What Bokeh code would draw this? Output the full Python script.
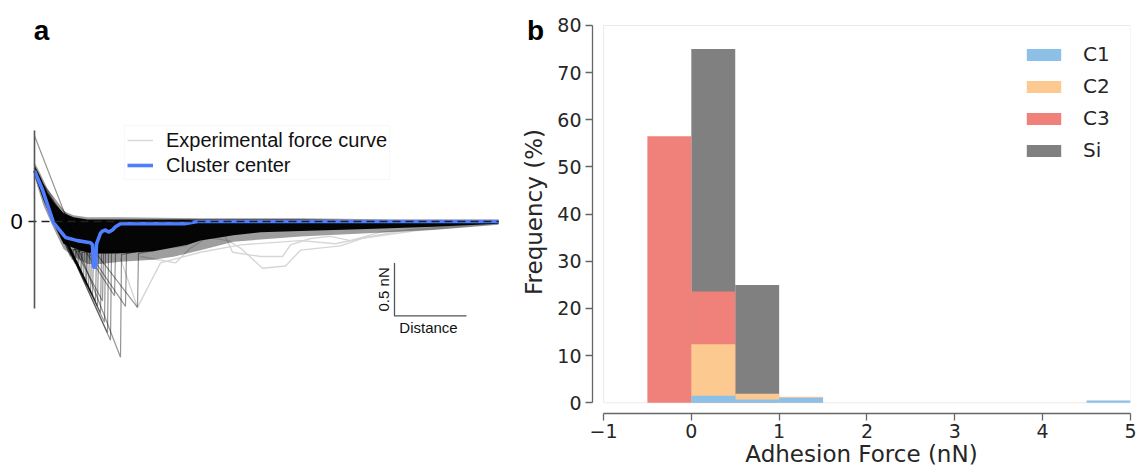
import math
from bokeh.plotting import figure
from bokeh.layouts import row
from bokeh.models import Legend, LegendItem, Label, FixedTicker, Range1d
from bokeh.embed import file_html
from bokeh.resources import INLINE

# ---------------- Panel a data (distance in a.u., force in nN) ----------------
center_x = [0, 8, 19, 31, 43, 56, 58, 59, 61, 62, 66, 68, 71, 74, 78, 81, 86, 96, 120, 150, 163, 250, 350, 464]
center_y = [0.48, 0.30, -0.01, -0.15, -0.18, -0.20, -0.22, -0.43, -0.43, -0.21, -0.11, -0.09, -0.08, -0.10,
            -0.08, -0.05, -0.02, -0.02, -0.02, -0.02, 0.0, 0.0, 0.0, 0.0]

band_upper_x = [0, 6, 13, 21, 29, 39, 53, 86, 166, 266, 366, 464]
band_upper_y = [0.53, 0.42, 0.27, 0.16, 0.08, 0.04, 0.02, 0.02, 0.02, 0.02, 0.01, 0.01]
band_lower_x = [464, 399, 333, 266, 226, 199, 166, 153, 119, 86, 63, 53, 39, 29, 19, 9, 0]
band_lower_y = [-0.02, -0.05, -0.07, -0.09, -0.10, -0.13, -0.18, -0.22, -0.28, -0.30, -0.30, -0.29, -0.25, -0.21, -0.02, 0.20, 0.44]

halo_upper_x = [0, 6, 13, 21, 29, 39, 53, 86, 166, 266, 366, 464]
halo_upper_y = [0.56, 0.45, 0.31, 0.19, 0.10, 0.06, 0.04, 0.04, 0.03, 0.03, 0.02, 0.02]
halo_lower_x = [464, 399, 333, 266, 199, 166, 140, 119, 86, 66, 53, 39, 29, 19, 9, 0]
halo_lower_y = [-0.03, -0.08, -0.11, -0.14, -0.19, -0.27, -0.33, -0.36, -0.38, -0.40, -0.40, -0.33, -0.26, -0.06, 0.15, 0.42]

# steep curves that snap off: start force, minimum point, force after snap-off
fan_start_y = [0.46] * 24 + [0.81]
fan_min_x = [36, 38, 40, 41, 43, 44, 46, 47, 49, 51, 52, 54, 56, 58, 61, 63, 66, 68, 70, 73, 76, 80, 91, 103, 86]
fan_min_y = [-0.33, -0.36, -0.38, -0.40, -0.42, -0.44, -0.48, -0.50, -0.53, -0.58, -0.60, -0.62, -0.67, -0.70,
             -0.75, -0.80, -0.86, -0.75, -0.95, -1.05, -1.12, -0.70, -0.80, -0.81, -1.28]
fan_after_y = [-0.27, -0.27, -0.28, -0.28, -0.28, -0.28, -0.29, -0.29, -0.29, -0.29, -0.29, -0.29, -0.30, -0.30,
               -0.30, -0.30, -0.30, -0.30, -0.30, -0.30, -0.30, -0.30, -0.30, -0.30, -0.31]

out1_x = [106, 141, 156, 171, 191, 198, 226, 248, 256, 276, 296, 316, 346, 386, 464]
out1_y = [-0.33, -0.39, -0.25, -0.16, -0.14, -0.29, -0.33, -0.33, -0.22, -0.16, -0.14, -0.18, -0.10, -0.07, -0.01]
out2_x = [116, 151, 166, 194, 206, 228, 251, 266, 306, 331, 366, 464]
out2_y = [-0.27, -0.23, -0.14, -0.18, -0.25, -0.44, -0.42, -0.27, -0.23, -0.15, -0.09, -0.02]
out3_x = [86, 103, 126, 166, 206, 266, 301, 326, 386, 436, 464]
out3_y = [-0.35, -0.81, -0.39, -0.29, -0.22, -0.18, -0.21, -0.16, -0.08, -0.04, -0.01]

legend_a_labels = ["Experimental force curve", "Cluster center"]
panel_letters = ["a", "b"]

# ---------------- Panel b data ----------------
bin_left = [-0.5, 0.0, 0.5, 1.0, 4.5]
bin_width = 0.5
freq_si = [0.0, 75.0, 25.0, 0.0, 0.0]
freq_c3 = [56.5, 23.6, 0.0, 0.0, 0.0]
freq_c2 = [0.0, 12.4, 1.9, 1.3, 0.0]
freq_c1 = [0.0, 1.5, 0.7, 1.05, 0.5]
series_names = ["C1", "C2", "C3", "Si"]
series_colors = {"C1": "#8cc0e6", "C2": "#fcca91", "C3": "#ef807a", "Si": "#808080"}
x_ticks = [-1, 0, 1, 2, 3, 4, 5]
y_ticks = [0, 10, 20, 30, 40, 50, 60, 70, 80]

TOP, BOTTOM = 10, 59
OVERLAP = 30

# ================= Panel a =================
pa = figure(width=518 + OVERLAP, height=472, output_backend="svg", toolbar_location=None,
            x_range=Range1d(-34, 484 + OVERLAP), y_range=Range1d(-1.811, 1.991),
            x_axis_type=None, y_axis_type=None,
            min_border_left=0, min_border_right=0, min_border_top=TOP, min_border_bottom=BOTTOM)
pa.outline_line_color = None
pa.xgrid.visible = False
pa.ygrid.visible = False

exp_r = pa.multi_line([out1_x, out2_x, out3_x], [out1_y, out2_y, out3_y],
                      line_color="#d6d6d6", line_width=1.4)

pa.patch(halo_upper_x + halo_lower_x, halo_upper_y + halo_lower_y,
         fill_color="black", fill_alpha=0.38, line_color=None)

fan_xs, fan_ys = [], []
for s, mx, my, ay in zip(fan_start_y, fan_min_x, fan_min_y, fan_after_y):
    fan_xs.append([0, mx, mx + 1, mx + 18])
    fan_ys.append([s, my, ay, ay + 0.03])
pa.multi_line(fan_xs, fan_ys, line_color="black", line_alpha=0.42, line_width=1.2)

pa.patch(band_upper_x + band_lower_x, band_upper_y + band_lower_y,
         fill_color="black", fill_alpha=0.97, line_color=None)

cl_r = pa.line(center_x, center_y, line_color="#4f7fff", line_width=3.6)

# zero dashed line
pa.line([-6, 464], [0, 0], line_color="#222222", line_width=1.5, line_dash="8 5")
# vertical spine
pa.line([0, 0], [0.86, -0.82], line_color="#555555", line_width=1.6)
pa.add_layout(Label(x=-18, y=0, text="0", text_font="Liberation Sans", text_font_size="22px",
                    text_align="center", text_baseline="middle", text_color="black"))

# scale bar
pa.line([360, 360, 432], [-0.39, -0.89, -0.89], line_color="#555555", line_width=1.3)
pa.add_layout(Label(x=349, y=-0.64, text="0.5 nN", angle=math.pi / 2, text_font="Liberation Sans",
                    text_font_size="15px", text_align="center", text_baseline="middle", text_color="#111111"))
pa.add_layout(Label(x=394, y=-1.0, text="Distance", text_font="Liberation Sans",
                    text_font_size="15px", text_align="center", text_baseline="middle", text_color="#111111"))

# panel letters (b sits in the strip that panel b's transparent canvas overlaps)
for lx, lab in zip([7, 501], panel_letters):
    pa.add_layout(Label(x=lx, y=1.80, text=lab, text_font="Liberation Sans", text_font_size="28px",
                        text_font_style="bold", text_align="center", text_baseline="middle",
                        text_color="black"))

leg_a = Legend(items=[LegendItem(label=legend_a_labels[0], renderers=[exp_r]),
                      LegendItem(label=legend_a_labels[1], renderers=[cl_r])],
               location=(124, 233), padding=2, spacing=1, margin=0,
               label_height=24, glyph_height=24, glyph_width=26, label_standoff=13,
               label_text_font="Liberation Sans", label_text_font_size="20px", label_text_color="#111111",
               border_line_color="#f2f2f2", background_fill_alpha=0.85)
pa.add_layout(leg_a)

# ================= Panel b =================
pb = figure(width=619, height=472, output_backend="svg", toolbar_location=None,
            x_range=Range1d(-1.125, 5.0), y_range=Range1d(-2.27, 83.18),
            min_border_left=72, min_border_right=7, min_border_top=TOP, min_border_bottom=BOTTOM,
            margin=(0, 0, 0, -OVERLAP))
pb.outline_line_color = None
pb.background_fill_color = None
pb.border_fill_color = None
pb.xgrid.visible = False
pb.ygrid.visible = False

pb.quad(left=[-1], right=[5], bottom=[0], top=[80], fill_color=None, line_color="#ebebeb", line_width=1)

lefts = bin_left
rights = [b + bin_width for b in bin_left]
rend = {}
for name, vals in [("Si", freq_si), ("C3", freq_c3), ("C2", freq_c2), ("C1", freq_c1)]:
    l = [a for a, v in zip(lefts, vals) if v > 0]
    r = [a for a, v in zip(rights, vals) if v > 0]
    t = [v for v in vals if v > 0]
    rend[name] = pb.quad(left=l, right=r, bottom=[0] * len(t), top=t,
                         fill_color=series_colors[name], line_color=None)

for ax in (pb.xaxis[0], pb.yaxis[0]):
    ax.axis_line_color = "#666666"
    ax.axis_line_width = 1.3
    ax.major_tick_line_color = "#666666"
    ax.major_tick_line_width = 1.3
    ax.major_tick_out = 7
    ax.major_tick_in = 0
    ax.minor_tick_line_color = None
    ax.major_label_text_font = "DejaVu Sans"
    ax.major_label_text_font_size = "19px"
    ax.major_label_text_color = "#262626"
    ax.axis_label_text_font = "DejaVu Sans"
    ax.axis_label_text_font_size = "23px"
    ax.axis_label_text_font_style = "normal"
    ax.axis_label_text_color = "#262626"

pb.xaxis.bounds = (-1, 5)
pb.xaxis.ticker = FixedTicker(ticks=x_ticks)
pb.xaxis.major_label_overrides = {-1: "\u22121"}
pb.xaxis.axis_label = "Adhesion Force (nN)"
pb.xaxis.major_label_standoff = 3
pb.xaxis.axis_label_standoff = 0
pb.yaxis.bounds = (0, 80)
pb.yaxis.ticker = FixedTicker(ticks=y_ticks)
pb.yaxis.axis_label = "Frequency (%)"
pb.yaxis.major_label_standoff = 4
pb.yaxis.axis_label_standoff = 7

leg_b = Legend(items=[LegendItem(label=n, renderers=[rend[n]]) for n in series_names],
               location=(430, 251), margin=0, padding=0, spacing=8,
               label_height=24, glyph_height=15, glyph_width=43, label_standoff=18,
               label_text_font="DejaVu Sans", label_text_font_size="20px", label_text_color="#262626",
               border_line_color=None, background_fill_alpha=0)
pb.add_layout(leg_b)

layout = row(pa, pb)
open("out.html", "w").write(file_html(layout, INLINE))
